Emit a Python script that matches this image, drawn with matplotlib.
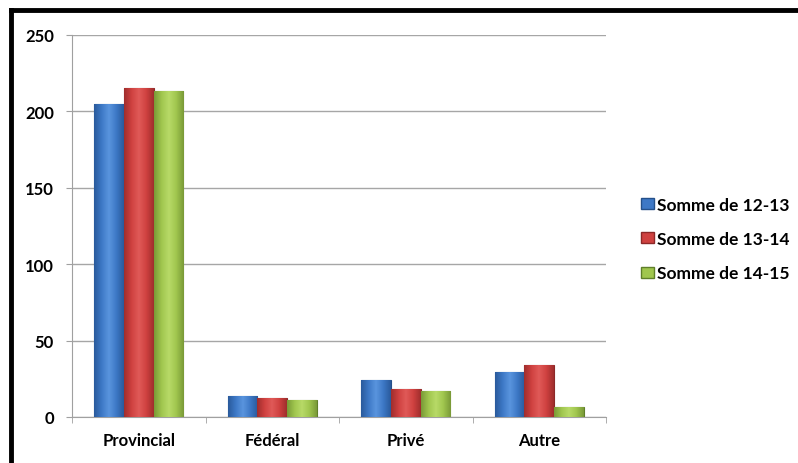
import numpy as np
import matplotlib.pyplot as plt
from matplotlib.lines import Line2D
from matplotlib.patches import Patch
from matplotlib.colors import LinearSegmentedColormap

# Données
categories = ['Provincial', 'Fédéral', 'Privé', 'Autre']
series_names = ['Somme de 12-13', 'Somme de 13-14', 'Somme de 14-15']
v_12_13 = [205, 14, 24, 29.5]
v_13_14 = [215, 12.5, 18.3, 34]
v_14_15 = [213.3, 11, 17, 6.5]
yticks = [0, 50, 100, 150, 200, 250]

colors = ['#3D78C6', '#CF4140', '#A0C64E']
darks = ['#2A5A9C', '#A02E2D', '#7A9A38']
lights = ['#5A95DE', '#E05A58', '#B8DA68']
edges = ['#24508A', '#8C2828', '#5F7F2A']

plt.rcParams['font.family'] = ['Lato', 'DejaVu Sans']

fig = plt.figure(figsize=(7.98, 4.64), dpi=100)
ax = fig.add_axes([72 / 798, 1 - 418 / 464, (606 - 72) / 798, (418 - 36) / 464])

x = np.arange(len(categories))
w = 0.222
grad = np.linspace(0, 1, 64).reshape(1, -1)
for i, vals in enumerate([v_12_13, v_13_14, v_14_15]):
    bars = ax.bar(x + (i - 1) * w, vals, width=w, color=colors[i], edgecolor=edges[i],
                  linewidth=0.8, zorder=3)
    cmap = LinearSegmentedColormap.from_list('c%d' % i,
                                             [darks[i], colors[i], lights[i], colors[i], darks[i]])
    for b in bars:
        x0, y0 = b.get_x(), b.get_y()
        im = ax.imshow(grad, cmap=cmap, aspect='auto', zorder=3.5,
                       extent=[x0, x0 + b.get_width(), y0, y0 + b.get_height()])
        im.set_clip_path(b)

ax.set_xlim(-0.5, len(categories) - 0.5)
ax.set_ylim(0, 250)
ax.set_yticks(yticks)
ax.set_yticklabels([str(t) for t in yticks], fontsize=12, fontweight='bold')
ax.set_xticks(x)
ax.set_xticklabels(categories, fontsize=12, fontweight='bold')
ax.tick_params(axis='x', length=0, pad=11)
ax.tick_params(axis='y', length=4, color='#A0A0A0', pad=9)
# petites graduations entre les catégories
ax.set_xticks(np.arange(-0.5, len(categories)), minor=True)
ax.tick_params(axis='x', which='minor', length=4, color='#A0A0A0')

ax.grid(axis='y', color='#A6A6A6', linewidth=1, zorder=0)
for s in ['top', 'right']:
    ax.spines[s].set_visible(False)
for s in ['left', 'bottom']:
    ax.spines[s].set_color('#A0A0A0')

handles = [Patch(facecolor=colors[i], edgecolor=edges[i]) for i in range(3)]
fig.legend(handles, series_names, loc='center left', bbox_to_anchor=(641 / 798, 1 - 240 / 464),
           frameon=False, prop={'size': 12.5, 'weight': 'bold'}, handlelength=0.75,
           handleheight=0.6, handletextpad=0.15, labelspacing=1.05,
           borderpad=0, borderaxespad=0)

# cadre noir épais (haut et gauche)
fig.add_artist(Line2D([11 / 798, 11 / 798], [0, 1 - 11 / 464], color='black', linewidth=3.5,
                      solid_capstyle='projecting'))
fig.add_artist(Line2D([11 / 798, 1], [1 - 11 / 464, 1 - 11 / 464], color='black', linewidth=3.5,
                      solid_capstyle='projecting'))

fig.savefig('out.png', dpi=100)
